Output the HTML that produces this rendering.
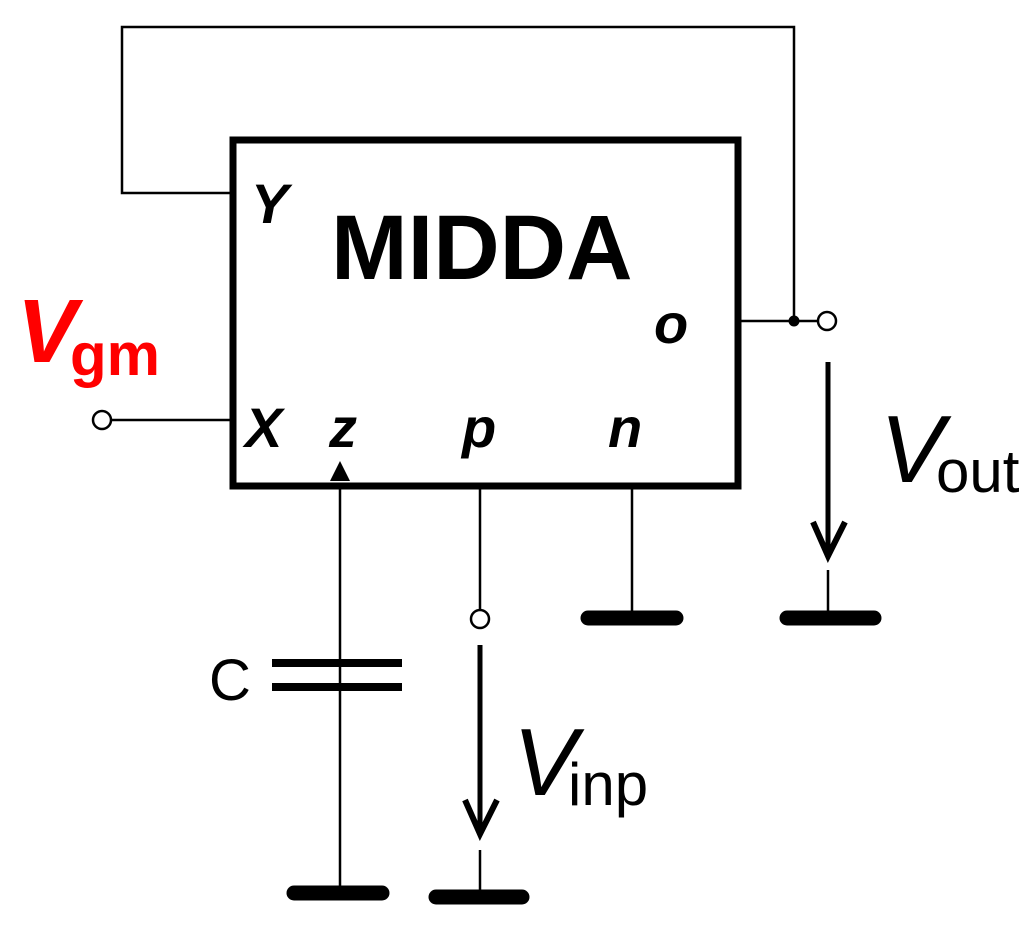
<!DOCTYPE html>
<html><head><style>
html,body{margin:0;padding:0;background:#fff;}
svg{display:block;}
text{font-family:"Liberation Sans",Arial,sans-serif;}
</style></head><body>
<svg width="1032" height="931" viewBox="0 0 1032 931" xmlns="http://www.w3.org/2000/svg">
<g stroke="#000" fill="none">
<rect x="233" y="140" width="505" height="346" stroke-width="7"/>
<polyline points="233,193 122,193 122,27 794,27 794,321" stroke-width="2.5"/>
<line x1="738" y1="321" x2="818" y2="321" stroke-width="2.5"/>
<circle cx="827" cy="321" r="9" stroke-width="2.5" fill="#fff"/>
<circle cx="794" cy="321" r="5.5" fill="#000" stroke="none"/>
<line x1="828" y1="362" x2="828" y2="555" stroke-width="5"/>
<polyline points="813,522 828,556 845,522" stroke-width="6"/>
<line x1="828" y1="570" x2="828" y2="617" stroke-width="2.5"/>
<line x1="787" y1="618" x2="874" y2="618" stroke-width="15" stroke-linecap="round"/>
<line x1="111" y1="420" x2="233" y2="420" stroke-width="2.5"/>
<circle cx="102" cy="420" r="9" stroke-width="2.5" fill="#fff"/>
<line x1="340" y1="486" x2="340" y2="888" stroke-width="2.5"/>
<line x1="272" y1="663" x2="402" y2="663" stroke-width="8"/>
<line x1="272" y1="687" x2="402" y2="687" stroke-width="8"/>
<line x1="294" y1="893" x2="382" y2="893" stroke-width="15" stroke-linecap="round"/>
<line x1="480" y1="486" x2="480" y2="610" stroke-width="2.5"/>
<circle cx="480" cy="619" r="9" stroke-width="2.5" fill="#fff"/>
<line x1="480" y1="645" x2="480" y2="833" stroke-width="5"/>
<polyline points="465,800 480,834 497,800" stroke-width="6"/>
<line x1="480" y1="850" x2="480" y2="895" stroke-width="2.5"/>
<line x1="436" y1="897" x2="522" y2="897" stroke-width="15" stroke-linecap="round"/>
<line x1="632" y1="486" x2="632" y2="617" stroke-width="2.5"/>
<line x1="588" y1="618" x2="676" y2="618" stroke-width="15" stroke-linecap="round"/>
</g>
<polygon points="340,461 330,481 350,481" fill="#000"/>
<g fill="#000" font-weight="bold" font-style="italic">
<text x="251" y="223" font-size="56">Y</text>
<text x="654" y="343" font-size="56">o</text>
<text x="245" y="447" font-size="56">X</text>
<text x="329" y="447" font-size="56">z</text>
<text x="462" y="447" font-size="56">p</text>
<text x="608" y="447" font-size="56">n</text>
</g>
<text x="331" y="279" font-size="92" font-weight="bold" fill="#000">MIDDA</text>
<text x="17" y="362" font-size="90" font-weight="bold" font-style="italic" fill="#f00">V</text>
<text x="70" y="375" font-size="60" font-weight="bold" fill="#f00">gm</text>
<text x="880" y="482" font-size="96" font-style="italic" fill="#000">V</text>
<text x="936" y="492" font-size="60" fill="#000">out</text>
<text x="513" y="795" font-size="96" font-style="italic" fill="#000">V</text>
<text x="568" y="805" font-size="60" fill="#000">inp</text>
<text x="209" y="700" font-size="58" fill="#000">C</text>
</svg>
</body></html>
